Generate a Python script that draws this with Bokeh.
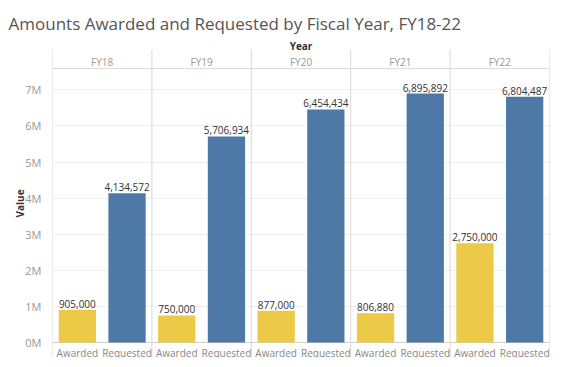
from bokeh.plotting import figure
from bokeh.models import FactorRange, Range1d, FixedTicker, Title, ColumnDataSource
from bokeh.core.properties import value
from bokeh.embed import file_html
from bokeh.resources import INLINE

# ---- data ----
years = ["FY18", "FY19", "FY20", "FY21", "FY22"]
types = ["Awarded", "Requested"]
awarded = [905000, 750000, 877000, 806880, 2750000]
requested = [4134572, 5706934, 6454434, 6895892, 6804487]
y_ticks = [0, 1000000, 2000000, 3000000, 4000000, 5000000, 6000000, 7000000]
y_tick_labels = ["0M", "1M", "2M", "3M", "4M", "5M", "6M", "7M"]
type_colors = {"Awarded": "#EDC948", "Requested": "#4E79A7"}

factors = [(y, t) for y in years for t in types]
vals = []
for a, r in zip(awarded, requested):
    vals += [a, r]
src = ColumnDataSource(dict(
    x=factors,
    top=vals,
    label=[f"{v:,}" for v in vals],
    color=[type_colors[t] for _, t in factors],
    sub=[t for _, t in factors],
))

FONT = "Open Sans"
PX_PER_M = 36.1
Y0 = -15 / PX_PER_M * 1e6
Y1 = 293 / PX_PER_M * 1e6
HEADER_LINE = 274 / PX_PER_M * 1e6
HEADER_TXT = 281 / PX_PER_M * 1e6
SUB_TXT = -10 / PX_PER_M * 1e6

p = figure(
    width=565, height=367,
    x_range=FactorRange(*factors, range_padding=0, factor_padding=0,
                        group_padding=0, subgroup_padding=0),
    y_range=Range1d(Y0, Y1),
    output_backend="svg", toolbar_location=None,
    x_axis_location=None,
    min_border_left=52, min_border_right=16, min_border_bottom=10, min_border_top=49,
    title=None,
)
p.outline_line_color = None
p.background_fill_color = "white"
p.border_fill_color = "white"

p.add_layout(Title(text="Year", align="center", text_font=FONT, text_font_size="10px",
                   text_font_style="bold", text_color="#333333", standoff=-7), "above")
p.add_layout(Title(text="Amounts Awarded and Requested by Fiscal Year, FY18-22", align="left",
                   text_font=FONT, text_font_size="17px", text_font_style="normal",
                   text_line_height=0.6,
                   text_color="#555555", offset=-44, standoff=12), "above")

# axes
p.xgrid.visible = False
ya = p.yaxis[0]
ya.ticker = FixedTicker(ticks=y_ticks)
ya.major_label_overrides = {t: l for t, l in zip(y_ticks, y_tick_labels)}
ya.axis_line_color = None
ya.major_tick_line_color = None
ya.minor_tick_line_color = None
ya.major_label_standoff = 5
ya.major_label_text_font = FONT
ya.major_label_text_font_size = "11px"
ya.major_label_text_color = "#999999"
ya.axis_label = "Value"
ya.axis_label_text_font = FONT
ya.axis_label_text_font_size = "10px"
ya.axis_label_text_font_style = "bold"
ya.axis_label_text_color = "#333333"
ya.axis_label_standoff = -5
p.ygrid.grid_line_color = "#efefef"

# frame decorations: header line, separators, baseline
p.segment(x0=[0], x1=[10], y0=[HEADER_LINE], y1=[HEADER_LINE], line_color="#dddddd", line_width=1)
p.segment(x0=[0], x1=[10], y0=[0], y1=[0], line_color="#d0d0d0", line_width=1)
seps = [0, 2, 4, 6, 8, 10]
p.segment(x0=seps, x1=seps, y0=[Y0] * 6, y1=[Y1] * 6, line_color="#d8d8d8", line_width=1)

# bars
p.vbar(x="x", top="top", bottom=0, width=0.75, color="color", source=src, line_color=None)

# labels
p.text(x="x", y="top", text="label", source=src, text_align="center", text_baseline="bottom",
       y_offset=-2, text_font=value(FONT), text_font_size="10px", text_color="#333333")
p.text(x="x", y=SUB_TXT, text="sub", source=src, text_align="center", text_baseline="middle",
       text_font=value(FONT), text_font_size="10px", text_color="#888888")
p.text(x=years, y=[HEADER_TXT] * 5, text=years, text_align="center", text_baseline="middle",
       text_font=value(FONT), text_font_size="10px", text_color="#999999")

open("out.html", "w").write(file_html(p, INLINE))
